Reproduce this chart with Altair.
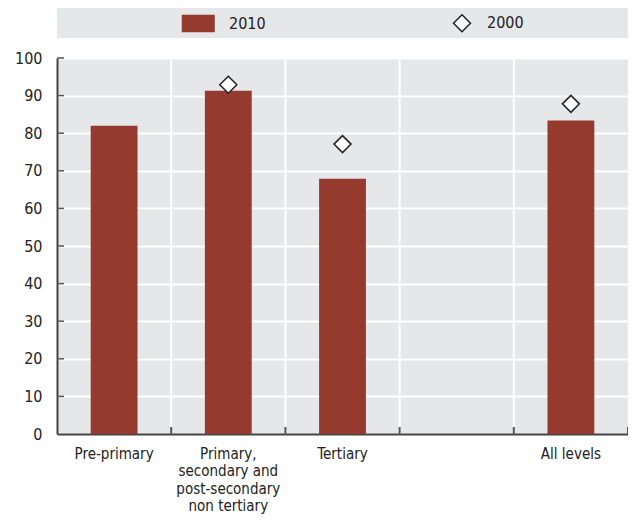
import altair as alt
import pandas as pd

# ---- data ----
categories = [
    "Pre-primary",
    "Primary,|secondary and|post-secondary|non tertiary",
    "Tertiary",
    "_blank",
    "All levels",
]
values_2010 = [82.0, 91.3, 67.9, None, 83.4]
values_2000 = [None, 92.9, 77.1, None, 87.8]
years = ["2010", "2000"]
y_ticks = [0, 10, 20, 30, 40, 50, 60, 70, 80, 90, 100]

rows = []
for c, v in zip(categories, values_2010):
    if v is not None:
        rows.append({"category": c, "year": "2010", "value": v})
for c, v in zip(categories, values_2000):
    if v is not None:
        rows.append({"category": c, "year": "2000", "value": v})
df = pd.DataFrame(rows)

RED = "#943A2E"
GREY = "#E6E7E8"
DARK = "#444444"
TEXT = "#222222"
FONT = "DejaVu Sans Condensed"
XFS = 15
YFS = 16
LFS = 16
# legend symbol shapes (unit = sqrt(size)/2 = 10 px)
rect_path = "M-2.15,-0.8L1,-0.8L1,0.8L-2.15,0.8Z"
diamond_path = "M0,-0.85L0.85,0L0,0.85L-0.85,0Z"
SYM = 400

W, H = 571, 376

x_scale = alt.Scale(domain=categories, paddingInner=0, paddingOuter=0)
y_scale = alt.Scale(domain=[0, 100], nice=False)

legend = alt.Legend(
    title=None,
    orient="none",
    legendX=136,
    legendY=-46,
    direction="horizontal",
    columns=2,
    columnPadding=184,
    padding=0,
    symbolSize=SYM,
    symbolStrokeWidth=1.5,
    symbolOpacity=1,
    labelFontSize=LFS,
    labelOffset=14,
    labelColor=TEXT,
    labelFont=FONT,
)

fill_enc = alt.Fill("year:N", scale=alt.Scale(domain=years, range=[RED, "white"]), legend=legend)
stroke_enc = alt.Stroke("year:N", scale=alt.Scale(domain=years, range=[RED, "#222222"]), legend=legend)
shape_enc = alt.Shape("year:N", scale=alt.Scale(domain=years, range=[rect_path, diamond_path]), legend=legend)

x_axis = alt.Axis(
    title=None,
    labelExpr="datum.label == '_blank' ? '' : split(datum.label, '|')",
    labelAngle=0,
    ticks=False,
    grid=False,
    domainColor=DARK,
    domainWidth=2,
    labelFontSize=XFS,
    labelColor=TEXT,
    labelPadding=12,
    labelLineHeight=17.5,
    labelFont=FONT,
)
y_axis = alt.Axis(
    title=None,
    values=y_ticks,
    ticks=False,
    grid=True,
    gridColor="white",
    gridWidth=2,
    domainColor=DARK,
    domainWidth=2,
    labelFontSize=YFS,
    labelColor=TEXT,
    labelPadding=15,
    labelFont=FONT,
)

box = alt.Chart(alt.Data(values=[{}])).mark_rect(color=GREY).encode(
    x=alt.value(0), x2=alt.value(W), y=alt.value(-50), y2=alt.value(-20)
)

grid_df = pd.DataFrame({"category": categories[1:]})
vgrid = alt.Chart(grid_df).mark_rule(color="white", strokeWidth=2).encode(
    x=alt.X("category:N", bandPosition=0, scale=x_scale, axis=x_axis),
    y=alt.value(0),
    y2=alt.value(H),
)

bars = alt.Chart(df).transform_filter("datum.year == '2010'").mark_bar(
    width=alt.RelativeBandSize(0.41), strokeWidth=0
).encode(
    x=alt.X("category:N", scale=x_scale, axis=x_axis),
    y=alt.Y("value:Q", scale=y_scale, axis=y_axis),
    fill=fill_enc,
    stroke=stroke_enc,
)

points = alt.Chart(df).transform_filter("datum.year == '2000'").mark_point(
    filled=True, size=SYM, strokeWidth=1.5, opacity=1
).encode(
    x=alt.X("category:N", scale=x_scale, axis=x_axis),
    y=alt.Y("value:Q", scale=y_scale, axis=y_axis),
    fill=fill_enc,
    stroke=stroke_enc,
    shape=shape_enc,
)

xticks = alt.Chart(grid_df).mark_rule(color="#555555", strokeWidth=2).encode(
    x=alt.X("category:N", bandPosition=0, scale=x_scale, axis=x_axis),
    y=alt.value(H),
    y2=alt.value(H - 7),
)
end_df = pd.DataFrame({"category": categories[-1:]})
xtick_end = alt.Chart(end_df).mark_rule(color="#555555", strokeWidth=2).encode(
    x=alt.X("category:N", bandPosition=1, scale=x_scale, axis=x_axis),
    y=alt.value(H),
    y2=alt.value(H - 7),
)

ytick_df = pd.DataFrame({"value": y_ticks[1:]})
yticks = alt.Chart(ytick_df).mark_rule(color="#555555", strokeWidth=1.5).encode(
    y=alt.Y("value:Q", scale=y_scale, axis=y_axis),
    x=alt.value(0),
    x2=alt.value(7),
)

chart = (
    alt.layer(box, vgrid, bars, points, xticks, xtick_end, yticks)
    .properties(
        width=W,
        height=H,
        autosize=alt.AutoSizeParams(type="none"),
        padding={"left": 49, "top": 50, "right": 0, "bottom": 82},
    )
    .configure(font=FONT)
    .configure_view(fill=GREY, stroke=None)
)

chart.save("out.html", embed_options={"renderer": "svg", "actions": False})
